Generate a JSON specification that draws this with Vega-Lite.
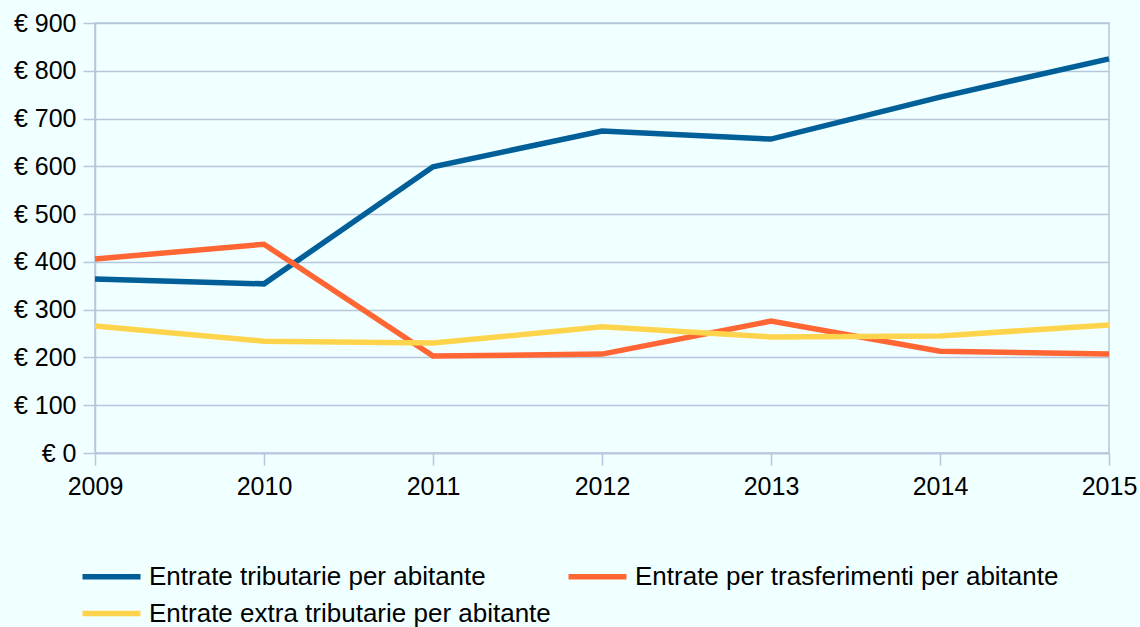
{
  "$schema": "https://vega.github.io/schema/vega-lite/v6.json",
  "autosize": "none",
  "width": 1014,
  "height": 430,
  "padding": {"left": 95, "top": 23, "right": 31, "bottom": 174},
  "background": "#f0ffff",
  "config": {
    "view": {"stroke": "#b4c7dc", "strokeWidth": 1.5},
    "font": "Liberation Sans"
  },
  "data": {
    "values": [
      {"anno": "2009", "serie": "Entrate tributarie per abitante", "valore": 364},
      {"anno": "2010", "serie": "Entrate tributarie per abitante", "valore": 354},
      {"anno": "2011", "serie": "Entrate tributarie per abitante", "valore": 599},
      {"anno": "2012", "serie": "Entrate tributarie per abitante", "valore": 674},
      {"anno": "2013", "serie": "Entrate tributarie per abitante", "valore": 657},
      {"anno": "2014", "serie": "Entrate tributarie per abitante", "valore": 745},
      {"anno": "2015", "serie": "Entrate tributarie per abitante", "valore": 825},
      {"anno": "2009", "serie": "Entrate per trasferimenti per abitante", "valore": 406},
      {"anno": "2010", "serie": "Entrate per trasferimenti per abitante", "valore": 437},
      {"anno": "2011", "serie": "Entrate per trasferimenti per abitante", "valore": 203},
      {"anno": "2012", "serie": "Entrate per trasferimenti per abitante", "valore": 207},
      {"anno": "2013", "serie": "Entrate per trasferimenti per abitante", "valore": 276},
      {"anno": "2014", "serie": "Entrate per trasferimenti per abitante", "valore": 213},
      {"anno": "2015", "serie": "Entrate per trasferimenti per abitante", "valore": 207},
      {"anno": "2009", "serie": "Entrate extra tributarie per abitante", "valore": 266},
      {"anno": "2010", "serie": "Entrate extra tributarie per abitante", "valore": 234},
      {"anno": "2011", "serie": "Entrate extra tributarie per abitante", "valore": 230},
      {"anno": "2012", "serie": "Entrate extra tributarie per abitante", "valore": 264},
      {"anno": "2013", "serie": "Entrate extra tributarie per abitante", "valore": 243},
      {"anno": "2014", "serie": "Entrate extra tributarie per abitante", "valore": 245},
      {"anno": "2015", "serie": "Entrate extra tributarie per abitante", "valore": 268}
    ]
  },
  "mark": {"type": "line", "strokeWidth": 5.5},
  "encoding": {
    "x": {
      "field": "anno",
      "type": "ordinal",
      "scale": {"type": "point", "padding": 0},
      "axis": {
        "title": null,
        "labelAngle": 0,
        "labelFontSize": 25,
        "labelColor": "#000000",
        "labelPadding": 9,
        "tickSize": 12,
        "tickColor": "#b4c7dc",
        "tickWidth": 1.5,
        "domainColor": "#b4c7dc",
        "domainWidth": 1.5,
        "grid": false
      }
    },
    "y": {
      "field": "valore",
      "type": "quantitative",
      "scale": {"domain": [0, 900], "nice": false},
      "axis": {
        "title": null,
        "values": [0, 100, 200, 300, 400, 500, 600, 700, 800, 900],
        "labelExpr": "'€ ' + datum.value",
        "labelFontSize": 25,
        "labelColor": "#000000",
        "labelPadding": 7,
        "tickSize": 12,
        "tickColor": "#b4c7dc",
        "tickWidth": 1.5,
        "domainColor": "#b4c7dc",
        "domainWidth": 1.5,
        "grid": true,
        "gridColor": "#b4c7dc",
        "gridWidth": 1.5
      }
    },
    "color": {
      "field": "serie",
      "type": "nominal",
      "sort": null,
      "scale": {
        "domain": ["Entrate tributarie per abitante", "Entrate extra tributarie per abitante", "Entrate per trasferimenti per abitante"],
        "range": ["#005f99", "#ffd44d", "#ff6633"]
      },
      "legend": {
        "title": null,
        "orient": "none",
        "legendX": -1,
        "legendY": 536,
        "columns": 2,
        "columnPadding": 6,
        "rowPadding": 6,
        "symbolType": "M-2,0H2",
        "symbolSize": 841,
        "symbolStrokeWidth": 5.5,
        "labelFontSize": 26,
        "labelColor": "#000000",
        "labelOffset": 20,
        "labelLimit": 600
      }
    }
  }
}
